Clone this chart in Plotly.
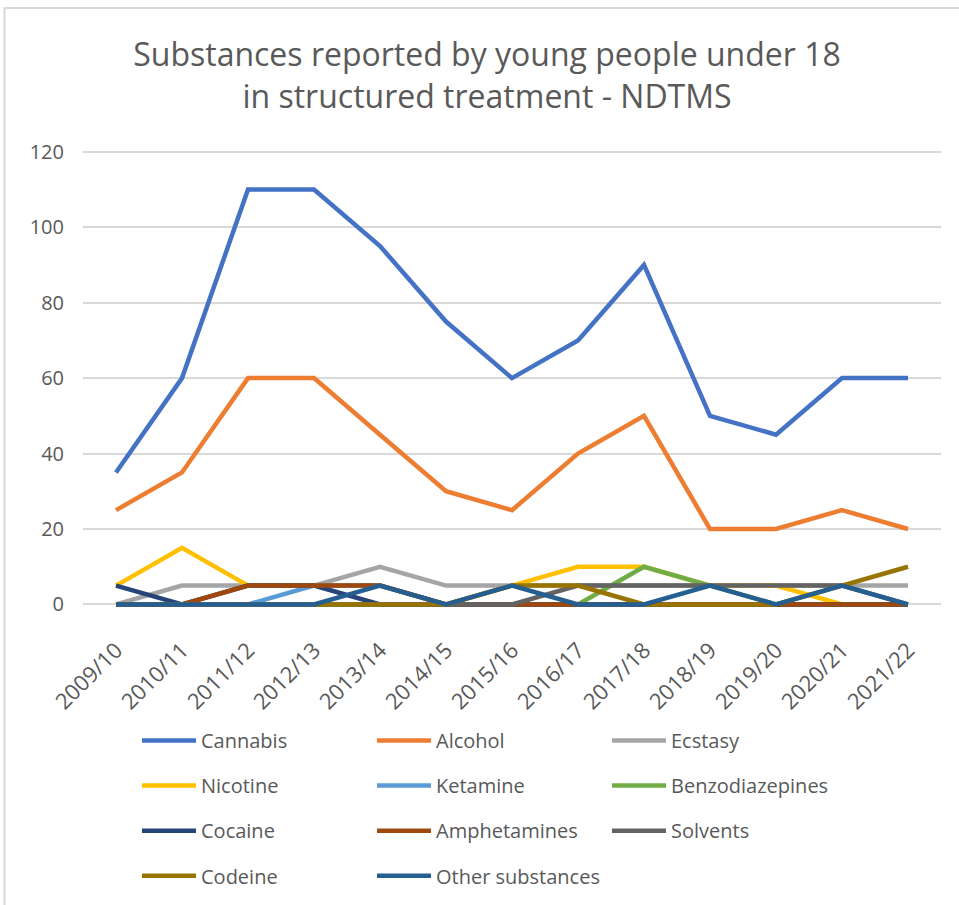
import plotly.graph_objects as go

years = ["2009/10", "2010/11", "2011/12", "2012/13", "2013/14", "2014/15", "2015/16",
         "2016/17", "2017/18", "2018/19", "2019/20", "2020/21", "2021/22"]

cannabis = [35, 60, 110, 110, 95, 75, 60, 70, 90, 50, 45, 60, 60]
alcohol = [25, 35, 60, 60, 45, 30, 25, 40, 50, 20, 20, 25, 20]
ecstasy = [0, 5, 5, 5, 10, 5, 5, 5, 5, 5, 5, 5, 5]
nicotine = [5, 15, 5, 5, 5, 0, 5, 10, 10, 5, 5, 0, 0]
ketamine = [0, 0, 0, 5, 5, 0, 0, 0, 0, 0, 0, 0, 0]
benzodiazepines = [0, 0, 0, 0, 0, 0, 0, 0, 10, 5, 0, 0, 0]
cocaine = [5, 0, 5, 5, 0, 0, 0, 0, 0, 0, 0, 0, 0]
amphetamines = [0, 0, 5, 5, 5, 0, 0, 0, 0, 0, 0, 0, 0]
solvents = [0, 0, 0, 0, 0, 0, 0, 5, 5, 5, 5, 5, 0]
codeine = [0, 0, 0, 0, 0, 0, 5, 5, 0, 0, 0, 5, 10]
other = [0, 0, 0, 0, 5, 0, 5, 0, 0, 5, 0, 5, 0]

series = [
    ("Cannabis", cannabis, "#4472C4", "legend"),
    ("Alcohol", alcohol, "#ED7D31", "legend"),
    ("Ecstasy", ecstasy, "#A5A5A5", "legend"),
    ("Nicotine", nicotine, "#FFC000", "legend2"),
    ("Ketamine", ketamine, "#5B9BD5", "legend2"),
    ("Benzodiazepines", benzodiazepines, "#70AD47", "legend2"),
    ("Cocaine", cocaine, "#264478", "legend3"),
    ("Amphetamines", amphetamines, "#9E480E", "legend3"),
    ("Solvents", solvents, "#636363", "legend3"),
    ("Codeine", codeine, "#997300", "legend4"),
    ("Other substances", other, "#255E91", "legend4"),
]

FONT = "Open Sans"
GRAY = "#595959"

fig = go.Figure()
for name, vals, color, lg in series:
    fig.add_trace(go.Scatter(
        x=years, y=vals, name=name, mode="lines",
        line=dict(color=color, width=4.5),
        legend=lg,
    ))

W, H = 959, 905
L, R = 83, 941
T, B = 148.2, 612.6
pw, ph = R - L, B - T

def py(pix):
    return (B - pix) / ph

def px(pix):
    return (pix - L) / pw

legend_common = dict(
    orientation="h", xanchor="left", yanchor="middle",
    x=px(137), font=dict(family=FONT, size=20, color=GRAY),
    entrywidth=166, entrywidthmode="pixels", bgcolor="rgba(0,0,0,0)",
    itemwidth=54, traceorder="normal",
)

fig.update_layout(
    width=W, height=H, autosize=False,
    margin=dict(l=L, r=W - R, t=T, b=H - B, pad=0),
    paper_bgcolor="white", plot_bgcolor="white",
    font=dict(family=FONT, color=GRAY),
    title=dict(
        text="Substances reported by young people under 18<br>in structured treatment - NDTMS",
        font=dict(family=FONT, size=32, color=GRAY),
        x=487 / W, xanchor="center", xref="container",
        y=1 - 66 / H, yanchor="middle", yref="container",
    ),
    showlegend=True,
    legend=dict(legend_common, y=py(740)),
    legend2=dict(legend_common, y=py(785)),
    legend3=dict(legend_common, y=py(830)),
    legend4=dict(legend_common, y=py(875)),
    xaxis=dict(
        type="category", range=[-0.5, len(years) - 0.5],
        showgrid=False, zeroline=False, showline=False, ticks="",
        tickangle=-45, tickfont=dict(family=FONT, size=22, color=GRAY),
        ticklabelstandoff=20,
    ),
    yaxis=dict(
        range=[-2, 121], tickmode="array", tickvals=[0, 20, 40, 60, 80, 100, 120],
        showgrid=True, gridcolor="#D9D9D9", gridwidth=2,
        zeroline=False, showline=False, ticks="",
        tickfont=dict(family=FONT, size=20, color=GRAY),
        ticklabelstandoff=18,
    ),
    shapes=[dict(
        type="rect", xref="paper", yref="paper",
        x0=px(4.5), x1=px(1000), y0=py(1000), y1=py(8),
        line=dict(color="#D9D9D9", width=2), fillcolor="rgba(0,0,0,0)", layer="below",
    )],
)

fig.write_html("out.html")
